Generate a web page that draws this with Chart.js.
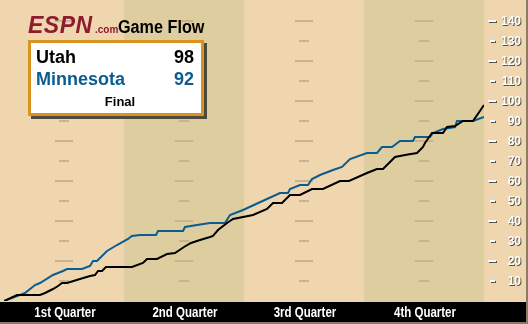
<!DOCTYPE html>
<html lang="en">
<head>
<meta charset="UTF-8">
<title>Game Flow</title>
<script src="https://cdn.jsdelivr.net/npm/chart.js"></script>
<style>
    body {
        margin: 0;
        overflow: hidden;
        font-family: "Liberation Sans", Arial, sans-serif;
    }
    .wrap {
        position: relative;
        width: 528px;
        height: 324px;
    }
    .wrap canvas {
        position: absolute;
        left: 0;
        top: 0;
    }
    .t {
        position: absolute;
        white-space: nowrap;
        font-weight: bold;
    }
    .box {
        position: absolute;
        left: 28px;
        top: 40px;
        width: 176px;
        height: 76px;
        box-sizing: border-box;
        border: 3px solid #d8941e;
        background: #fff;
        box-shadow: 3px 3px 0 #4f4a3e;
    }
</style>
</head>
<body>
<div class="wrap">
    <canvas id="grafica" width="528" height="324"></canvas>
    <div class="t" style="left:28px;top:13.5px;font-size:23px;line-height:23px;font-style:italic;color:#8c1c2e;letter-spacing:0.5px">ESPN</div>
    <div class="t" style="left:95px;top:24.5px;font-size:10px;line-height:10px;color:#8c1c2e">.com</div>
    <div class="t" style="left:118px;top:17.8px;font-size:18px;line-height:18px;color:#000;transform:scaleX(0.9);transform-origin:left top">Game Flow</div>
    <div class="box"></div>
    <div class="t" id="team1" style="left:36px;top:47.5px;font-size:18px;line-height:18px;color:#000"></div>
    <div class="t" id="score1" style="left:140px;width:54px;text-align:right;top:47.5px;font-size:18px;line-height:18px;color:#000"></div>
    <div class="t" id="team2" style="left:36px;top:69.8px;font-size:18px;line-height:18px;color:#0b5c92"></div>
    <div class="t" id="score2" style="left:140px;width:54px;text-align:right;top:69.8px;font-size:18px;line-height:18px;color:#0b5c92"></div>
    <div class="t" style="left:90px;width:60px;text-align:center;top:95px;font-size:13px;line-height:13px;color:#000">Final</div>
</div>

<script>
    // equipos y marcador final
    const teams = ['Utah', 'Minnesota'];
    const finalScores = [98, 92];

    // minutos de juego y puntos acumulados
    const utahMinutes = [0, 1.3, 3.6, 4.1, 4.9, 5.4, 5.8, 6.3, 7.6, 8.6, 9.1, 9.4, 9.8, 10.2, 12.8, 13.9, 14.3, 15.3, 16.3, 17.1,
        18.0, 18.7, 19.6, 20.6, 20.9, 21.4, 22.3, 22.9, 24.9, 26.3, 26.9, 27.8, 28.6, 29.6, 30.8, 31.9, 33.6, 34.5, 36.3, 37.3,
        37.9, 39.1, 40.1, 41.3, 41.9, 42.1, 42.8, 43.9, 44.3, 45.1, 45.9, 46.9, 48];
    const utahPoints = [0, 3, 3, 4, 6, 7.5, 9, 9, 11, 12.5, 13, 15, 15, 17, 17, 19, 21, 21, 23.5, 24,
        27, 29, 30.5, 32, 32.5, 35.5, 39, 41, 43, 46, 49, 49, 53, 53, 56, 56, 60, 60, 64, 66,
        66, 72, 73, 74, 77, 79, 84, 84, 87, 87.5, 90, 90, 98];

    const minnMinutes = [0, 2.1, 3.1, 3.6, 4.9, 5.4, 5.9, 6.3, 7.8, 8.6, 8.9, 9.3, 10.3, 11.3, 12.4, 12.8, 13.6, 15.2, 15.4, 17.9,
        18.1, 19.3, 20.6, 22.1, 22.6, 23.9, 26.3, 27.6, 28.4, 28.6, 29.6, 30.4, 30.8, 31.6, 32.9, 33.8, 34.6, 36.3, 37.3, 37.8,
        38.8, 39.6, 40.9, 41.1, 42.6, 42.9, 43.9, 45.1, 45.3, 46.9, 48];
    const minnPoints = [0, 4, 8, 9, 13, 14, 15, 16, 16, 17.5, 20, 20, 25, 28, 31, 32.5, 33, 33, 35, 35,
        37, 38, 39, 39, 43, 45.5, 51, 54, 54, 56, 58, 58, 61, 63, 65.5, 67, 71, 74, 74, 77,
        77, 80, 80, 82, 82, 84, 86, 87, 90, 90, 92];

    const quarterLabels = ['1st Quarter', '2nd Quarter', '3rd Quarter', '4th Quarter'];
    const quarterStarts = [0, 12, 24, 36, 48];
    const yTicks = [10, 20, 30, 40, 50, 60, 70, 80, 90, 100, 110, 120, 130, 140];

    document.getElementById('team1').textContent = teams[0];
    document.getElementById('team2').textContent = teams[1];
    document.getElementById('score1').textContent = finalScores[0];
    document.getElementById('score2').textContent = finalScores[1];

    function toPoints(xs, ys) {
        return xs.map((m, i) => ({ x: m, y: ys[i] }));
    }

    const fondoPlugin = {
        id: 'fondo',
        beforeDatasetsDraw(chart) {
            const { ctx, scales: { x, y } } = chart;
            const bottom = y.getPixelForValue(0);
            ctx.save();
            ctx.fillStyle = '#efd6ae';
            ctx.fillRect(0, 0, 528, 324);

            // bandas de cuartos
            ctx.fillStyle = '#ddcd9f';
            for (let q = 1; q < 4; q += 2) {
                const x0 = x.getPixelForValue(quarterStarts[q]);
                const x1 = x.getPixelForValue(quarterStarts[q + 1]);
                ctx.fillRect(x0, 0, x1 - x0, bottom + 1);
            }

            // marcas en el centro de cada cuarto
            ctx.fillStyle = '#cab38e';
            for (let q = 0; q < 4; q++) {
                const cx = Math.round(x.getPixelForValue((quarterStarts[q] + quarterStarts[q + 1]) / 2));
                yTicks.forEach(v => {
                    const w = v % 20 === 0 ? 18 : 10;
                    const py = Math.round(y.getPixelForValue(v));
                    ctx.fillRect(cx - w / 2, py - 1, w, 2);
                });
            }

            // barra inferior
            ctx.fillStyle = '#000';
            ctx.fillRect(0, bottom + 1, 526, 21);
            ctx.fillStyle = '#fff';
            ctx.font = 'bold 14px "Liberation Sans", Arial, sans-serif';
            ctx.textAlign = 'center';
            ctx.textBaseline = 'alphabetic';
            quarterLabels.forEach((lab, q) => {
                const cx = x.getPixelForValue((quarterStarts[q] + quarterStarts[q + 1]) / 2);
                ctx.save();
                ctx.translate(cx + 1, bottom + 16);
                ctx.scale(0.82, 1);
                ctx.fillText(lab, 0, 0);
                ctx.restore();
            });

            // etiquetas del eje derecho
            ctx.shadowColor = '#5a5242';
            ctx.shadowOffsetX = 1;
            ctx.shadowOffsetY = 1;
            ctx.shadowBlur = 0;
            ctx.fillStyle = '#fff';
            ctx.font = 'bold 12px "Liberation Sans", Arial, sans-serif';
            ctx.textAlign = 'right';
            yTicks.forEach(v => {
                const py = Math.round(y.getPixelForValue(v));
                if (v % 20 === 0) {
                    ctx.fillRect(488, py - 1, 8, 2);
                } else {
                    ctx.fillRect(490, py - 1, 5, 2);
                }
                ctx.fillText(String(v), 521, py + 4);
            });
            ctx.restore();

            // bordes
            ctx.fillStyle = '#8a7b63';
            ctx.fillRect(0, 322, 528, 2);
            ctx.fillRect(526, 0, 2, 324);
        }
    };

    const ctx = document.getElementById('grafica').getContext('2d');
    const myChart = new Chart(ctx, {
        type: 'line',
        data: {
            datasets: [{
                label: teams[0],
                data: toPoints(utahMinutes, utahPoints),
                borderColor: '#000000',
                borderWidth: 2,
                pointRadius: 0,
                tension: 0,
                order: 0
            }, {
                label: teams[1],
                data: toPoints(minnMinutes, minnPoints),
                borderColor: '#0b5c92',
                borderWidth: 2,
                pointRadius: 0,
                tension: 0,
                order: 1
            }]
        },
        options: {
            responsive: false,
            animation: false,
            devicePixelRatio: 1,
            layout: {
                padding: { left: 4, right: 44, top: 1, bottom: 23 }
            },
            scales: {
                x: { type: 'linear', min: 0, max: 48, display: false },
                y: { min: 0, max: 150, display: false }
            },
            plugins: {
                legend: { display: false },
                tooltip: { enabled: false }
            }
        },
        plugins: [fondoPlugin]
    });
</script>
</body>
</html>
